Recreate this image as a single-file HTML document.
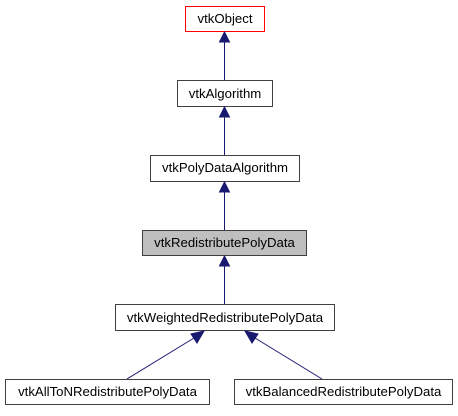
<!DOCTYPE html>
<html><head><meta charset="utf-8"><style>
html,body{margin:0;padding:0;background:#fff;}
svg text{font-family:"Liberation Sans",sans-serif;font-size:13.2px;fill:#000;text-anchor:middle;}
</style></head><body>
<svg width="458" height="411" xmlns="http://www.w3.org/2000/svg">
<g fill="#fff" stroke="#404040" stroke-width="1">
<rect x="185.5" y="6.5" width="79" height="25" stroke="#ff0000"/>
<rect x="177.5" y="80.5" width="95" height="26"/>
<rect x="150.5" y="155.5" width="149" height="26"/>
<rect x="142.5" y="230.5" width="164" height="25" fill="#bfbfbf"/>
<rect x="115.5" y="304.5" width="219" height="26"/>
<rect x="5.5" y="379.5" width="204" height="25"/>
<rect x="234.5" y="379.5" width="218" height="25"/>
</g>
<g stroke="#191970" stroke-width="1" fill="none">
<line x1="224.5" y1="41" x2="224.5" y2="80"/>
<line x1="224.5" y1="116" x2="224.5" y2="155"/>
<line x1="224.5" y1="191" x2="224.5" y2="230"/>
<line x1="224.5" y1="265" x2="224.5" y2="304"/>
<line x1="127" y1="379" x2="194" y2="338"/>
<line x1="322" y1="379" x2="255" y2="338"/>
</g>
<g fill="#191970" stroke="#191970">
<polygon points="224.5,32 219.5,42 229.5,42"/>
<polygon points="224.5,107 219.5,117 229.5,117"/>
<polygon points="224.5,182 219.5,192 229.5,192"/>
<polygon points="224.5,256 219.5,266 229.5,266"/>
<polygon points="204,331 191,334 197,343"/>
<polygon points="245,331 252,343 258,334"/>
</g>
<text x="225" y="23">vtkObject</text>
<text x="225" y="98">vtkAlgorithm</text>
<text x="225" y="172">vtkPolyDataAlgorithm</text>
<text x="224.5" y="247">vtkRedistributePolyData</text>
<text x="225" y="322">vtkWeightedRedistributePolyData</text>
<text x="107.5" y="396">vtkAllToNRedistributePolyData</text>
<text x="343.5" y="396">vtkBalancedRedistributePolyData</text>
</svg>
</body></html>
